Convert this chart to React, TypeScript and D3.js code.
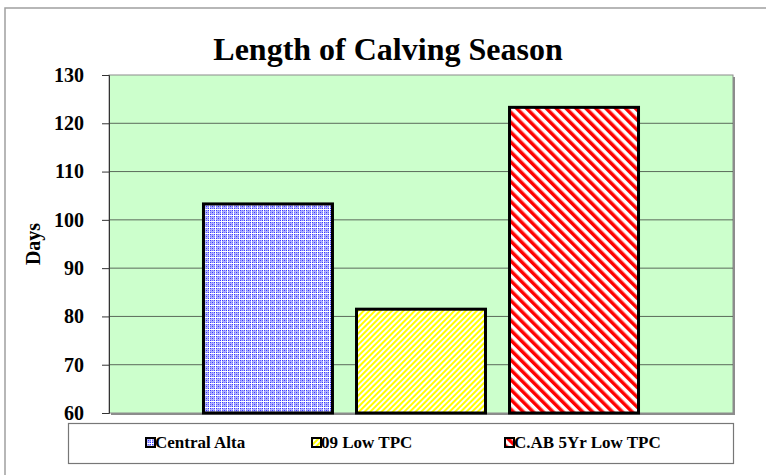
import React, { useEffect, useRef } from "react";
import * as d3 from "d3";

const series = ["Central Alta", "09 Low TPC", "C.AB 5Yr Low TPC"];
const values = [103.3, 81.5, 123.3];
const yTicks = [60, 70, 80, 90, 100, 110, 120, 130];
const patternIds = ["patBlue", "patYellow", "patRed"];

const App = () => {
  const svgRef = useRef<SVGSVGElement>(null);

  useEffect(() => {
    const width = 766;
    const height = 475;
    const plot = { left: 109, top: 75, right: 733, bottom: 413 };
    const serif = "'Liberation Serif', 'Times New Roman', serif";

    const svg = d3.select(svgRef.current).attr("width", width).attr("height", height);
    svg.selectAll("*").remove();

    // patterns
    const defs = svg.append("defs");
    const blue = defs
      .append("pattern")
      .attr("id", "patBlue")
      .attr("patternUnits", "userSpaceOnUse")
      .attr("width", 6)
      .attr("height", 6);
    blue.append("rect").attr("width", 6).attr("height", 6).attr("fill", "#b0b0ff");
    [
      [0, 0], [2, 2], [4, 0], [0, 4], [4, 4],
    ].forEach(([x, y]) => {
      blue.append("rect").attr("x", x).attr("y", y).attr("width", 1).attr("height", 1).attr("fill", "#3a3aff");
    });
    [
      [2, 0], [0, 2], [4, 2], [2, 4],
    ].forEach(([x, y]) => {
      blue.append("rect").attr("x", x).attr("y", y).attr("width", 1).attr("height", 1).attr("fill", "#7070ff");
    });
    blue.append("rect").attr("x", 5).attr("y", 0).attr("width", 1).attr("height", 6).attr("fill", "#ffffff");
    blue.append("rect").attr("x", 0).attr("y", 5).attr("width", 6).attr("height", 1).attr("fill", "#ffffff");

    const yellow = defs
      .append("pattern")
      .attr("id", "patYellow")
      .attr("patternUnits", "userSpaceOnUse")
      .attr("width", 4)
      .attr("height", 4)
      .attr("patternTransform", "rotate(45)");
    yellow.append("rect").attr("width", 4).attr("height", 4).attr("fill", "#ffffff");
    yellow.append("rect").attr("width", 2).attr("height", 4).attr("fill", "#ffff00");

    const red = defs
      .append("pattern")
      .attr("id", "patRed")
      .attr("patternUnits", "userSpaceOnUse")
      .attr("width", 7)
      .attr("height", 7)
      .attr("patternTransform", "rotate(-45)");
    red.append("rect").attr("width", 7).attr("height", 7).attr("fill", "#ffffff");
    red.append("rect").attr("width", 3.5).attr("height", 7).attr("fill", "#ff0000");

    // outer frame
    svg
      .append("rect")
      .attr("x", 5)
      .attr("y", 8)
      .attr("width", 800)
      .attr("height", 500)
      .attr("fill", "#ffffff")
      .attr("stroke", "#a0a0a0")
      .attr("stroke-width", 1.5);

    const x = d3
      .scaleBand()
      .domain(series)
      .range([plot.left, plot.right])
      .paddingInner(0.157)
      .paddingOuter(0.6175);
    const y = d3.scaleLinear().domain([60, 130]).range([plot.bottom, plot.top]);

    // plot area with shadow
    svg
      .append("rect")
      .attr("x", plot.left + 2)
      .attr("y", plot.top + 2)
      .attr("width", plot.right - plot.left)
      .attr("height", plot.bottom - plot.top)
      .attr("fill", "#8c8c8c");
    svg
      .append("rect")
      .attr("x", plot.left)
      .attr("y", plot.top)
      .attr("width", plot.right - plot.left)
      .attr("height", plot.bottom - plot.top)
      .attr("fill", "#ccffcc")
      .attr("stroke", "#8c8c8c")
      .attr("stroke-width", 1);

    // gridlines
    svg
      .append("g")
      .selectAll("line")
      .data(yTicks.filter((t) => t > 60 && t < 130))
      .enter()
      .append("line")
      .attr("x1", plot.left)
      .attr("x2", plot.right)
      .attr("y1", (d) => y(d))
      .attr("y2", (d) => y(d))
      .attr("stroke", "#5a6a5a")
      .attr("stroke-width", 1);

    // axis
    const axis = svg
      .append("g")
      .attr("transform", `translate(${plot.left},0)`)
      .call(d3.axisLeft(y).tickValues(yTicks).tickSize(7).tickPadding(18));
    axis.select(".domain").attr("stroke", "#333");
    axis.selectAll(".tick line").attr("stroke", "#333");
    axis
      .selectAll("text")
      .attr("font-family", serif)
      .attr("font-weight", "bold")
      .attr("font-size", 20)
      .attr("fill", "#000");

    // bars
    svg
      .append("g")
      .selectAll("rect")
      .data(values)
      .enter()
      .append("rect")
      .attr("x", (_, i) => x(series[i]) as number)
      .attr("y", (d) => y(d))
      .attr("width", x.bandwidth())
      .attr("height", (d) => y(60) - y(d))
      .attr("fill", (_, i) => `url(#${patternIds[i]})`)
      .attr("stroke", "#000")
      .attr("stroke-width", 3);

    // title
    svg
      .append("text")
      .attr("x", 388)
      .attr("y", 60)
      .attr("text-anchor", "middle")
      .attr("font-family", serif)
      .attr("font-weight", "bold")
      .attr("font-size", 32)
      .text("Length of Calving Season");

    // y label
    svg
      .append("text")
      .attr("transform", `translate(40,${(plot.top + plot.bottom) / 2}) rotate(-90)`)
      .attr("text-anchor", "middle")
      .attr("font-family", serif)
      .attr("font-weight", "bold")
      .attr("font-size", 20)
      .text("Days");

    // legend
    svg
      .append("rect")
      .attr("x", 68.5)
      .attr("y", 423.5)
      .attr("width", 665)
      .attr("height", 40)
      .attr("fill", "#ffffff")
      .attr("stroke", "#777")
      .attr("stroke-width", 1.2);
    const legendX = [146, 312, 505];
    series.forEach((s, i) => {
      const g = svg.append("g").attr("transform", `translate(${legendX[i]},438)`);
      g.append("rect")
        .attr("width", 9)
        .attr("height", 9)
        .attr("fill", `url(#${patternIds[i]})`)
        .attr("stroke", "#000")
        .attr("stroke-width", 2);
      g.append("text")
        .attr("x", 9)
        .attr("y", 10)
        .attr("font-family", serif)
        .attr("font-weight", "bold")
        .attr("font-size", 17)
        .text(s);
    });
  }, []);

  return (
    <div style={{ position: "absolute", left: 0, top: 0, width: 766, height: 475, overflow: "hidden" }}>
      <svg ref={svgRef} style={{ display: "block" }}></svg>
    </div>
  );
};

export default App;
